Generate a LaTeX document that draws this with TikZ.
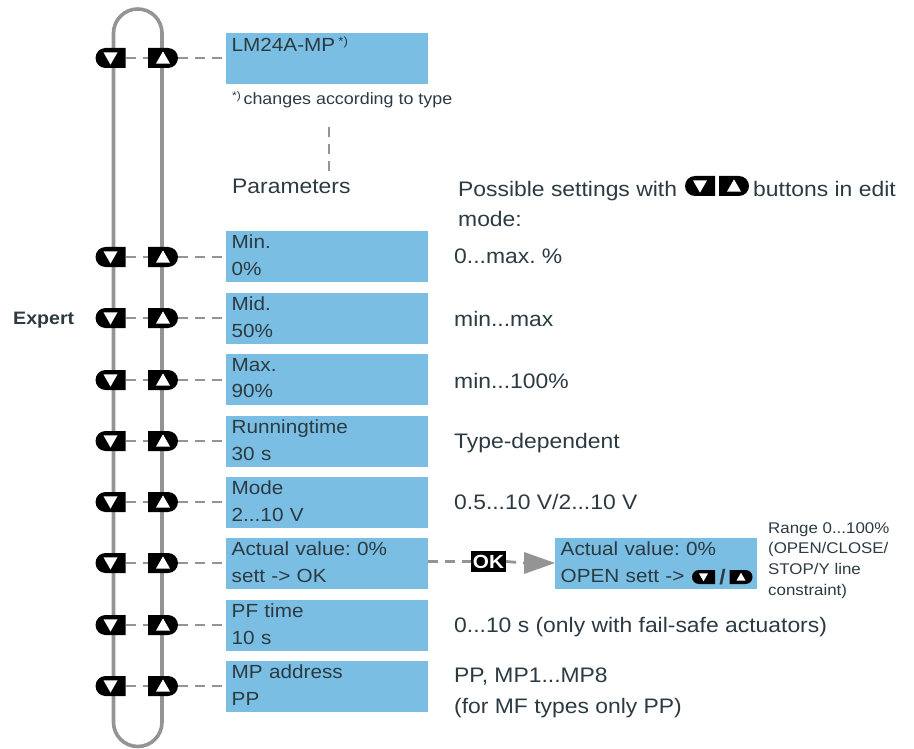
\documentclass[tikz,border=0pt]{standalone}
\usepackage{fontspec}
\setmainfont[FakeStretch=1.09]{Liberation Sans}
\usetikzlibrary{shapes.misc,shapes.geometric}
\definecolor{boxblue}{HTML}{7ABFE3}
\definecolor{linegray}{HTML}{949494}
\definecolor{inkdark}{HTML}{2C3A42}
\newcommand\fs[1]{\fontsize{#1}{#1}\selectfont}
\tikzset{
  x=1pt,y=-1pt,
  every node/.style={text=inkdark},
  loopline/.style={draw=linegray,line width=3.6pt},
  dashline/.style={draw=linegray,line width=2.8pt,dash pattern=on 10pt off 7pt},
  lcdbox/.style={fill=boxblue,minimum width=202pt,minimum height=51pt,text width=191pt,inner xsep=5.5pt,inner ysep=0pt,align=left,font=\fs{19},anchor=north west,execute at begin node={\setlength{\baselineskip}{26.5pt}},execute at end node={\par\vspace{3pt}}},
  dnbtn/.style={rounded rectangle,rounded rectangle east arc=none,fill=black,minimum width=30pt,minimum height=20pt,inner sep=0pt},
  upbtn/.style={rounded rectangle,rounded rectangle west arc=none,fill=black,minimum width=30pt,minimum height=20pt,inner sep=0pt},
  smalldn/.style={dnbtn,minimum width=23pt,minimum height=14pt},
  smallup/.style={upbtn,minimum width=23pt,minimum height=14pt},
  lbl/.style={anchor=base west,inner sep=0pt,font=\fs{21}},
  smalllbl/.style={anchor=base west,inner sep=0pt,font=\fs{15.5}},
}
\newcommand\tridn[2]{\fill[white] ([shift={(-#2,-#2*0.8)}]#1.center) -- ([shift={(#2,-#2*0.8)}]#1.center) -- ([shift={(0,#2*0.95)}]#1.center) -- cycle;}
\newcommand\triup[2]{\fill[white] ([shift={(-#2,#2*0.8)}]#1.center) -- ([shift={(#2,#2*0.8)}]#1.center) -- ([shift={(0,-#2*0.95)}]#1.center) -- cycle;}
\frenchspacing
\begin{document}
\begin{tikzpicture}
\frenchspacing
\useasboundingbox (0,0) rectangle (914,749);
\draw[loopline,rounded corners=24.25pt] (113.5,9) rectangle (162,746.5);

\foreach \n/\yc/\yt/\t in {
  a/58/33/{LM24A-MP\,\raisebox{6pt}{\fs{12}*)}\\~},
  b/257/231/{Min.\\0\%},
  c/318/293/{Mid.\\50\%},
  d/380/354/{Max.\\90\%},
  e/441/416/{Runningtime\\30 s},
  f/502/477/{Mode\\2...10 V},
  g/563/538/{Actual value: 0\%\\sett -> OK},
  h/625/600/{PF time\\10 s},
  i/686/661/{MP address\\PP}}{
  \node[lcdbox] (box\n) at (226,\yt) {\t};
  \node[dnbtn] (dn\n) at (110.5,\yc) {};
  \node[upbtn] (up\n) at (163,\yc) {};
  \tridn{dn\n}{7}
  \triup{up\n}{7}
  \draw[dashline] (dn\n.east) -- (up\n.west);
  \draw[dashline] (up\n.east) -- (up\n.east -| box\n.west);
}

\node[smalllbl,font=\fs{16.4}] (note) at (232,105) {\raisebox{5pt}{\fs{11}*)}\,changes according to type};
\coordinate (va) at (329,127);
\coordinate (vb) at (329,175);
\draw[dashline] (va) -- (vb);
\node[lbl] (params) at (232,194) {Parameters};

\node[lbl] (poss) at (458,197) {Possible settings with};
\node[dnbtn] (hdn) at (700,186) {};
\node[upbtn] (hup) at (734,186) {};
\tridn{hdn}{7}
\triup{hup}{7}
\node[lbl] (poss2) at (753,197) {buttons in edit};
\node[lbl] (mode) at (458,227) {mode:};

\node[lbl,font=\fs{18}\bfseries] (expert) at (13,324.5) {Expert};

\node[lbl] (tb) at (454,264) {0...max. \%};
\node[lbl] (tc) at (454,326) {min...max};
\node[lbl] (td) at (454,388) {min...100\%};
\node[lbl] (te) at (454,448) {Type-dependent};
\node[lbl] (tf) at (454,509) {0.5...10 V/2...10 V};
\node[lbl] (th) at (454,632) {0...10 s (only with fail-safe actuators)};
\node[lbl] (ti1) at (454,682) {PP, MP1...MP8};
\node[lbl] (ti2) at (454,713) {(for MF types only PP)};

\node[lcdbox] (boxj) at (555,538) {Actual value: 0\%\\OPEN sett ->};
\node[fill=black,text=white,font=\fs{19}\bfseries,minimum width=35pt,minimum height=21pt,inner sep=0pt] (ok) at (488.5,561.5) {OK};
\coordinate (arrowbase) at (524,563);
\draw[dashline] (boxg.east |- ok.west) -- (ok.west);
\draw[dashline] (ok.east) -- (arrowbase);
\fill[linegray] (524,552) -- (boxj.west |- arrowbase) -- (524,574) -- cycle;

\node[smalldn] (jdn) at (703.5,577) {};
\node[smallup] (jup) at (741,577) {};
\tridn{jdn}{4.5}
\triup{jup}{4.5}
\node[font=\fs{21}\bfseries,inner sep=0pt] (slash) at (722.5,577) {/};

\foreach \n/\yy/\t in {1/533/{Range 0...100\%},2/553/{(OPEN/CLOSE/},3/574/{STOP/Y line},4/595/{constraint)}}{
  \node[smalllbl] (r\n) at (768,\yy) {\t};
}
\end{tikzpicture}
\end{document}
